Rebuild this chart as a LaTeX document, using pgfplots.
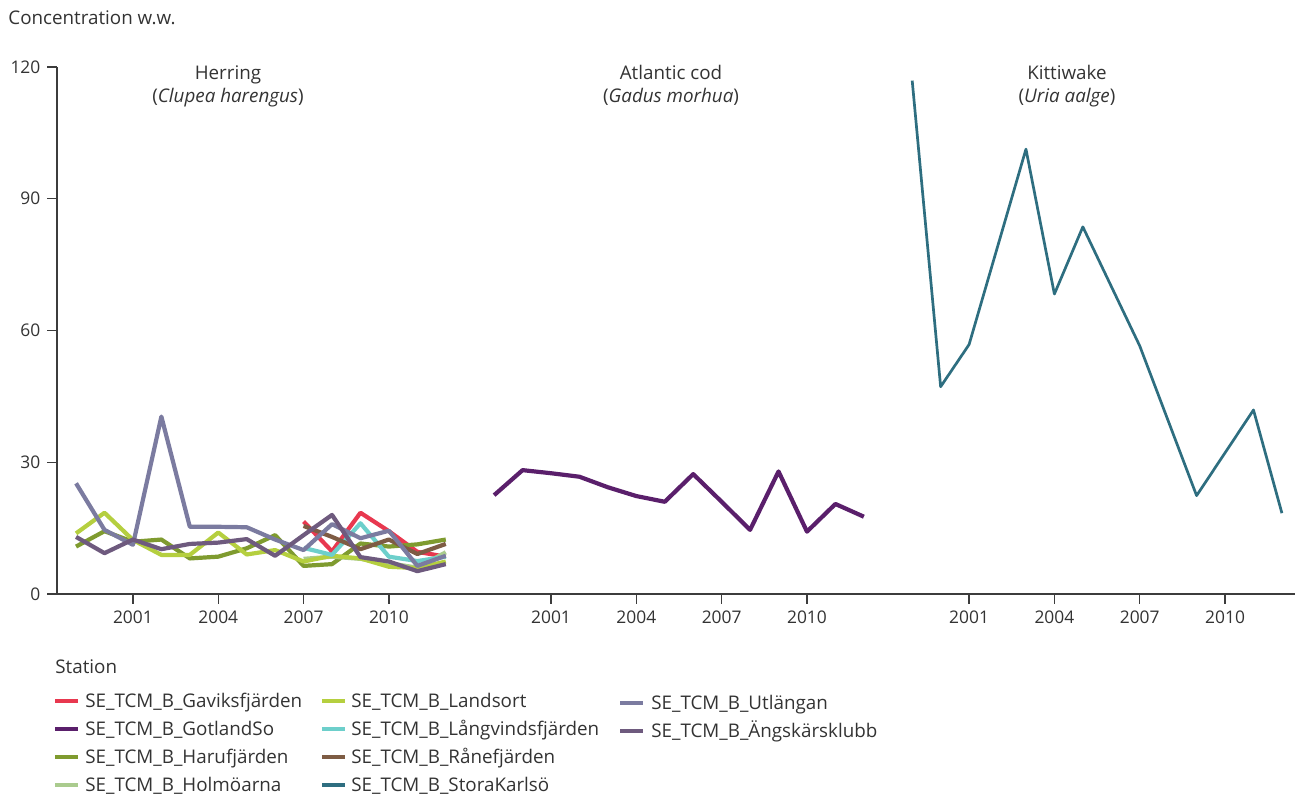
\documentclass[border=0pt]{standalone}
\usepackage{fontspec}
\setmainfont{Open Sans}
\usepackage{pgfplots}
\usepackage{pgfplotstable}
\pgfplotsset{compat=1.18}

\definecolor{txt}{HTML}{333333}
\definecolor{axgrey}{HTML}{3C3C3C}
\definecolor{cGavik}{HTML}{E8384F}
\definecolor{cGotl}{HTML}{5A1F6B}
\definecolor{cHaru}{HTML}{7F9B2F}
\definecolor{cHolm}{HTML}{AACB8E}
\definecolor{cLand}{HTML}{B5CF3F}
\definecolor{cLang}{HTML}{6DCFCB}
\definecolor{cRane}{HTML}{7E5C44}
\definecolor{cStora}{HTML}{2E6E80}
\definecolor{cUtl}{HTML}{7B7BA0}
\definecolor{cAngs}{HTML}{6E5A7E}

\newcommand{\fs}{\fontsize{9.4bp}{11bp}\selectfont}
\newcommand{\fst}{\fontsize{8.7bp}{10bp}\selectfont}

% herring stations (nan = no sample)
\pgfplotstableread{
year gavik haru holm land lang rane utl angs
1999 nan 10.8 nan 13.8 nan  nan  25.2 13.0
2000 nan 14.3 nan 18.5 nan  nan  14.6 9.3
2001 nan 11.9 nan 12.3 nan  nan  11.2 12.4
2002 nan 12.4 nan 8.9  nan  nan  40.4 10.2
2003 nan 8.1  nan 8.9  nan  nan  15.3 11.4
2004 nan 8.5  nan 14.0 nan  nan  15.3 11.7
2005 nan 10.4 nan 9.0  nan  nan  15.2 12.5
2006 nan 13.4 nan 10.0 nan  nan  12.4 8.7
2007 16.5 6.4 8.0 7.4  10.5 15.5 10.0 13.4
2008 9.7 6.8  8.5 8.7  8.9  13.0 15.9 18.0
2009 18.5 11.5 8.0 8.1 16.1 10.2 12.7 8.4
2010 14.3 10.8 7.0 6.2 8.5  12.4 14.4 7.4
2011 9.6 11.3 6.0 5.9  7.5  9.1  6.4  5.2
2012 8.5 12.4 9.5 7.4  8.5  11.4 8.7  6.8
}\herring

% cod, GotlandSo
\pgfplotstableread{
year val
1999 22.5
2000 28.2
2001 27.5
2002 26.7
2003 24.3
2004 22.3
2005 21.0
2006 27.3
2007 21.0
2008 14.6
2009 27.9
2010 14.2
2011 20.5
2012 17.6
}\cod

% kittiwake, StoraKarlso
\pgfplotstableread{
year val
1999 116.9
2000 47.2
2001 56.8
2003 101.3
2004 68.3
2005 83.6
2007 56.5
2009 22.4
2011 41.9
2012 18.4
}\kitti

\begin{document}
\begin{tikzpicture}
\path (0,0) rectangle (650.5bp,398bp);
\begin{axis}[
    at={(28.5bp,101bp)}, anchor=south west,
    scale only axis,
    width=619bp, height=263.5bp,
    xmin=1998.33, xmax=2041.86,
    ymin=0, ymax=120,
    axis x line*=bottom, axis y line*=left,
    axis line style={color=axgrey, line width=0.7bp},
    tick style={color=axgrey, line width=0.6bp},
    tick align=outside, major tick length=4.8bp,
    ytick={0,30,60,90,120},
    xtick={2001,2004,2007,2010,2015.7,2018.7,2021.7,2024.7,2030.4,2033.4,2036.4,2039.4},
    xticklabels={2001,2004,2007,2010,2001,2004,2007,2010,2001,2004,2007,2010},
    ticklabel style={font=\fst, text=txt},
    /pgf/number format/assume math mode=true,
    clip=false,
    every axis plot/.append style={line width=2.1bp, line join=round},
]
\addplot[cGavik] table[x=year, y=gavik] {\herring};
\addplot[cGotl] table[x expr=\thisrow{year}+14.7, y=val] {\cod};
\addplot[cHaru] table[x=year, y=haru] {\herring};
\addplot[cHolm] table[x=year, y=holm] {\herring};
\addplot[cLand] table[x=year, y=land] {\herring};
\addplot[cLang] table[x=year, y=lang] {\herring};
\addplot[cRane] table[x=year, y=rane] {\herring};
\addplot[cStora, line width=1.35bp] table[x expr=\thisrow{year}+29.4, y=val] {\kitti};
\addplot[cUtl] table[x=year, y=utl] {\herring};
\addplot[cAngs] table[x=year, y=angs] {\herring};
\end{axis}

\begin{scope}[every node/.style={inner sep=0pt, font=\fs, text=txt}]
\node[anchor=base west] at (4bp,385.5bp) {Concentration w.w.};
\node[anchor=base] at (114bp,358bp) {Herring};
\node[anchor=base] at (114bp,346.5bp) {(\textit{Clupea harengus})};
\node[anchor=base] at (335.5bp,358bp) {Atlantic cod};
\node[anchor=base] at (335.5bp,346.5bp) {(\textit{Gadus morhua})};
\node[anchor=base] at (533.5bp,358bp) {Kittiwake};
\node[anchor=base] at (533.5bp,346.5bp) {(\textit{Uria aalge})};
\node[anchor=base west] at (27.5bp,61.2bp) {Station};
% legend, column 1
\draw[cGavik, line width=2bp] (27.5bp,47.5bp) -- (39bp,47.5bp);
\node[anchor=base west] at (42.5bp,44.1bp) {SE\_TCM\_B\_Gaviksfjärden};
\draw[cGotl, line width=2bp] (27.5bp,33.5bp) -- (39bp,33.5bp);
\node[anchor=base west] at (42.5bp,30.1bp) {SE\_TCM\_B\_GotlandSo};
\draw[cHaru, line width=2bp] (27.5bp,19.5bp) -- (39bp,19.5bp);
\node[anchor=base west] at (42.5bp,16.1bp) {SE\_TCM\_B\_Harufjärden};
\draw[cHolm, line width=2bp] (27.5bp,5.5bp) -- (39bp,5.5bp);
\node[anchor=base west] at (42.5bp,2.1bp) {SE\_TCM\_B\_Holmöarna};
% column 2
\draw[cLand, line width=2bp] (161bp,47.5bp) -- (172.5bp,47.5bp);
\node[anchor=base west] at (175.5bp,44.1bp) {SE\_TCM\_B\_Landsort};
\draw[cLang, line width=2bp] (161bp,33.5bp) -- (172.5bp,33.5bp);
\node[anchor=base west] at (175.5bp,30.1bp) {SE\_TCM\_B\_Långvindsfjärden};
\draw[cRane, line width=2bp] (161bp,19.5bp) -- (172.5bp,19.5bp);
\node[anchor=base west] at (175.5bp,16.1bp) {SE\_TCM\_B\_Rånefjärden};
\draw[cStora, line width=2bp] (161bp,5.5bp) -- (172.5bp,5.5bp);
\node[anchor=base west] at (175.5bp,2.1bp) {SE\_TCM\_B\_StoraKarlsö};
% column 3
\draw[cUtl, line width=2bp] (310bp,46.5bp) -- (321.5bp,46.5bp);
\node[anchor=base west] at (325.5bp,43.1bp) {SE\_TCM\_B\_Utlängan};
\draw[cAngs, line width=2bp] (310bp,32.5bp) -- (321.5bp,32.5bp);
\node[anchor=base west] at (325.5bp,29.1bp) {SE\_TCM\_B\_Ängskärsklubb};
\end{scope}
\end{tikzpicture}
\end{document}
